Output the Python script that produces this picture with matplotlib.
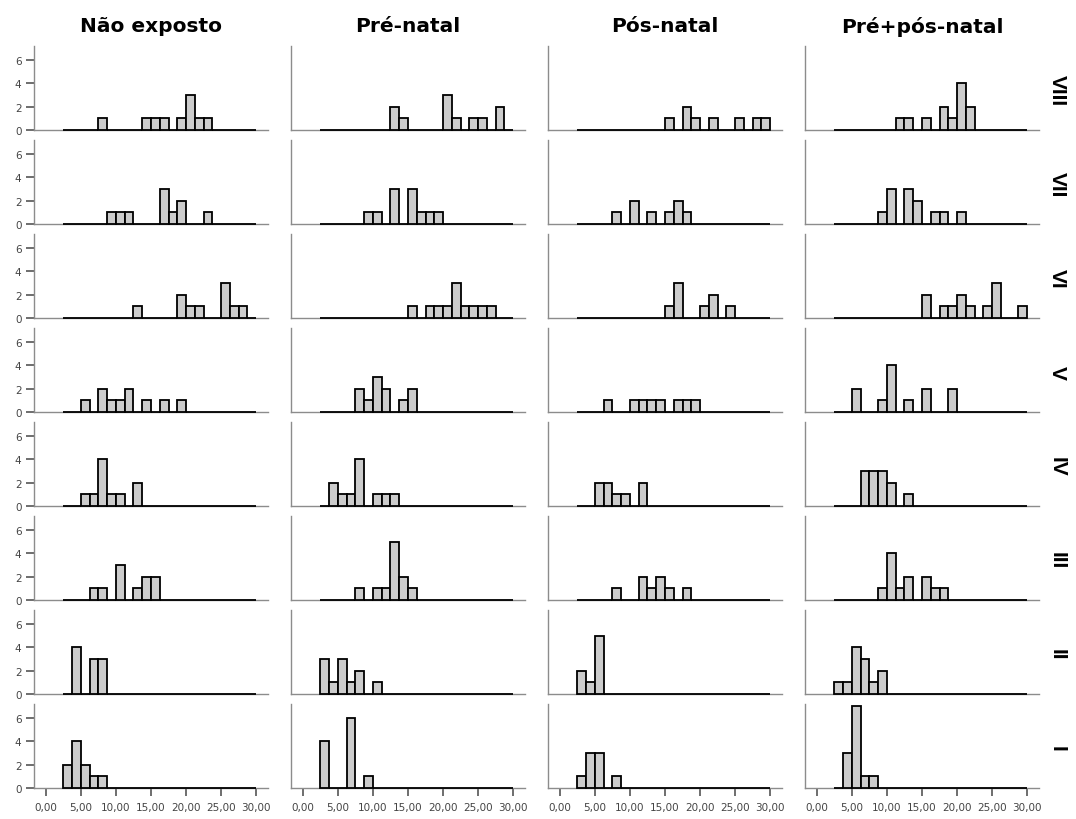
import matplotlib
matplotlib.use('Agg')
import matplotlib.pyplot as plt
import numpy as np

groups = ['Não exposto', 'Pré-natal', 'Pós-natal', 'Pré+pós-natal']
row_labels = ['VIII', 'VII', 'VI', 'V', 'IV', 'III', 'II', 'I']

# histogram bins: 2,5 .. 30,0 in steps of 1,25 (22 bins)
bin_edges = np.arange(2.5, 30.01, 1.25)

xticks = [0, 5, 10, 15, 20, 25, 30]
xtick_labels = ['0,00', '5,00', '10,00', '15,00', '20,00', '25,00', '30,00']
yticks = [0, 2, 4, 6]

# counts per bin, one list per row (VIII at top .. I at bottom)
nao_exposto = [
    [0,0,0,0,1,0,0,0,0,1,1,1,0,1,3,1,1,0,0,0,0,0],
    [0,0,0,0,0,1,1,1,0,0,0,3,1,2,0,0,1,0,0,0,0,0],
    [0,0,0,0,0,0,0,0,1,0,0,0,0,2,1,1,0,0,3,1,1,0],
    [0,0,1,0,2,1,1,2,0,1,0,1,0,1,0,0,0,0,0,0,0,0],
    [0,0,1,1,4,1,1,0,2,0,0,0,0,0,0,0,0,0,0,0,0,0],
    [0,0,0,1,1,0,3,0,1,2,2,0,0,0,0,0,0,0,0,0,0,0],
    [0,4,0,3,3,0,0,0,0,0,0,0,0,0,0,0,0,0,0,0,0,0],
    [2,4,2,1,1,0,0,0,0,0,0,0,0,0,0,0,0,0,0,0,0,0],
]
pre_natal = [
    [0,0,0,0,0,0,0,0,2,1,0,0,0,0,3,1,0,1,1,0,2,0],
    [0,0,0,0,0,1,1,0,3,0,3,1,1,1,0,0,0,0,0,0,0,0],
    [0,0,0,0,0,0,0,0,0,0,1,0,1,1,1,3,1,1,1,1,0,0],
    [0,0,0,0,2,1,3,2,0,1,2,0,0,0,0,0,0,0,0,0,0,0],
    [0,2,1,1,4,0,1,1,1,0,0,0,0,0,0,0,0,0,0,0,0,0],
    [0,0,0,0,1,0,1,1,5,2,1,0,0,0,0,0,0,0,0,0,0,0],
    [3,1,3,1,2,0,1,0,0,0,0,0,0,0,0,0,0,0,0,0,0,0],
    [4,0,0,6,0,1,0,0,0,0,0,0,0,0,0,0,0,0,0,0,0,0],
]
pos_natal = [
    [0,0,0,0,0,0,0,0,0,0,1,0,2,1,0,1,0,0,1,0,1,1],
    [0,0,0,0,1,0,2,0,1,0,1,2,1,0,0,0,0,0,0,0,0,0],
    [0,0,0,0,0,0,0,0,0,0,1,3,0,0,1,2,0,1,0,0,0,0],
    [0,0,0,1,0,0,1,1,1,1,0,1,1,1,0,0,0,0,0,0,0,0],
    [0,0,2,2,1,1,0,2,0,0,0,0,0,0,0,0,0,0,0,0,0,0],
    [0,0,0,0,1,0,0,2,1,2,1,0,1,0,0,0,0,0,0,0,0,0],
    [2,1,5,0,0,0,0,0,0,0,0,0,0,0,0,0,0,0,0,0,0,0],
    [1,3,3,0,1,0,0,0,0,0,0,0,0,0,0,0,0,0,0,0,0,0],
]
pre_pos_natal = [
    [0,0,0,0,0,0,0,1,1,0,1,0,2,1,4,2,0,0,0,0,0,0],
    [0,0,0,0,0,1,3,0,3,2,0,1,1,0,1,0,0,0,0,0,0,0],
    [0,0,0,0,0,0,0,0,0,0,2,0,1,1,2,1,0,1,3,0,0,1],
    [0,0,2,0,0,1,4,0,1,0,2,0,0,2,0,0,0,0,0,0,0,0],
    [0,0,0,3,3,3,2,0,1,0,0,0,0,0,0,0,0,0,0,0,0,0],
    [0,0,0,0,0,1,4,1,2,0,2,1,1,0,0,0,0,0,0,0,0,0],
    [1,1,4,3,1,2,0,0,0,0,0,0,0,0,0,0,0,0,0,0,0,0],
    [0,3,7,1,1,0,0,0,0,0,0,0,0,0,0,0,0,0,0,0,0,0],
]
all_counts = [nao_exposto, pre_natal, pos_natal, pre_pos_natal]

W, H = 1076, 820
fig = plt.figure(figsize=(W / 100, H / 100), dpi=100)

col_left = [34, 291, 548, 805]
ax_w, ax_h = 234, 84
row_base = [131 + 94 * r for r in range(len(row_labels))]

for c, data in enumerate(all_counts):
    for r, counts in enumerate(data):
        ax = fig.add_axes([col_left[c] / W, 1 - row_base[r] / H, ax_w / W, ax_h / H])
        ax.bar(bin_edges[:-1], counts, width=np.diff(bin_edges), align='edge',
               color='#cccccc', edgecolor='black', linewidth=1.3,
               zorder=3, clip_on=False)
        ax.set_xlim(-1.7, 31.7)
        ax.set_ylim(0, 7.2)
        for s in ['top', 'right']:
            ax.spines[s].set_visible(False)
        for s in ['left', 'bottom']:
            ax.spines[s].set_color('#8c8c8c')
            ax.spines[s].set_linewidth(1.0)

        if c == 0:
            ax.set_yticks(yticks)
            ax.tick_params(axis='y', length=6, width=1.2, color='#555555',
                           labelsize=7.5, labelcolor='#444444', pad=3)
        else:
            ax.set_yticks([])

        if r == len(row_labels) - 1:
            ax.set_xticks(xticks)
            ax.set_xticklabels(xtick_labels)
            ax.tick_params(axis='x', length=6, width=1.2, color='#555555',
                           labelsize=7.5, labelcolor='#444444', pad=4)
        else:
            ax.set_xticks([])

for c, name in enumerate(groups):
    fig.text((col_left[c] + ax_w / 2) / W, 1 - 27 / H, name,
             ha='center', va='center', fontsize=14.5, fontweight='bold')

for r, lab in enumerate(row_labels):
    fig.text(1057 / W, 1 - (row_base[r] - ax_h / 2 + 2) / H, lab,
             rotation=270, ha='center', va='center',
             fontsize=15, fontweight='bold', family='Liberation Sans')

fig.savefig('out.png', dpi=100)
